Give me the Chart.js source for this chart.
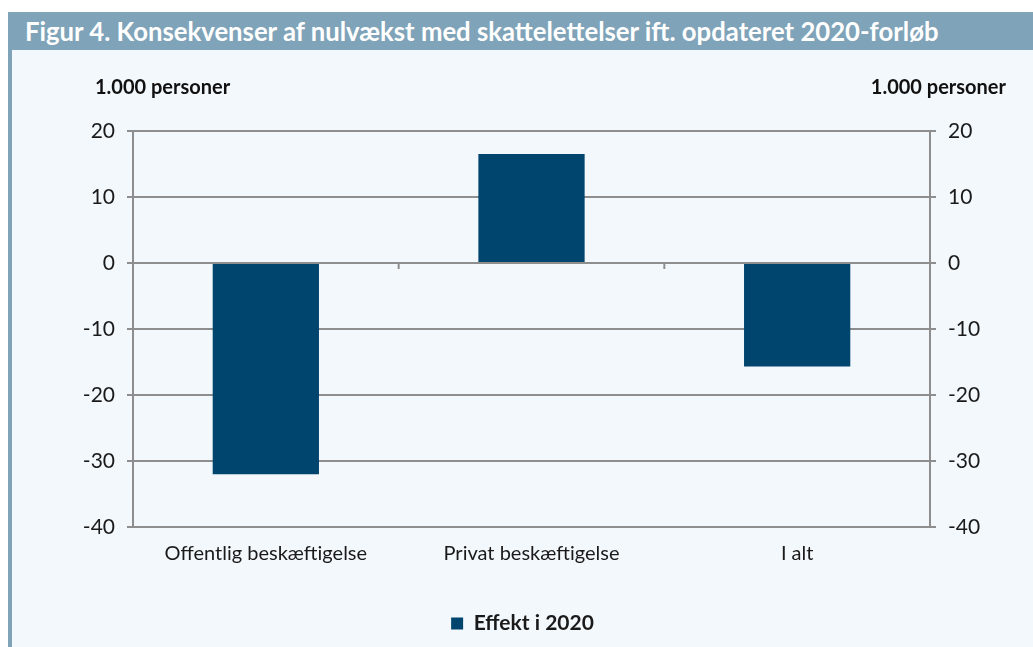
<!DOCTYPE html>
<html>
<head>
<meta charset="utf-8">
<script src="https://cdn.jsdelivr.net/npm/chart.js@4/dist/chart.umd.min.js"></script>
<style>
  body { margin: 0; background: #fff; font-family: Lato, sans-serif; }
  #title { position: absolute; left: 8px; top: 12px; width: 1025px; height: 38px; background: #7fa3b8;
           color: #fff; font-weight: bold; font-size: 25.7px; line-height: 38px; padding-left: 17px; box-sizing: border-box; white-space: nowrap; }
  #panel { position: absolute; left: 8px; top: 50px; width: 1025px; height: 597px; background: #f3f8fc;
           border-left: 4px solid #7fa3b8; box-sizing: border-box; }
  #wrap { position: absolute; left: 0; top: 0; width: 1021px; height: 597px; }
  .unit { position: absolute; top: 24px; font-weight: bold; font-size: 20px; color: #111; }
</style>
</head>
<body>
<div id="title">Figur 4. Konsekvenser af nulvækst med skattelettelser ift. opdateret 2020-forløb</div>
<div id="panel">
  <div id="wrap"><canvas id="chart"></canvas></div>
  <div class="unit" style="left:83px">1.000 personer</div>
  <div class="unit" style="right:27px">1.000 personer</div>
</div>
<script>
// --- DATA ---
const categories = ['Offentlig beskæftigelse', 'Privat beskæftigelse', 'I alt'];
const effekt2020 = [-32, 16.5, -15.7];
const seriesName = 'Effekt i 2020';
const yMin = -40, yMax = 20, yStep = 10;

const gridColor = '#8e8e8e';
const textColor = '#1a1a1a';

// short tick marks on the zero line between categories
const zeroTicks = {
    id: 'zeroTicks',
    afterDatasetsDraw(chart) {
        const x = chart.scales.x, y = chart.scales.y;
        const y0 = y.getPixelForValue(0);
        const ctx = chart.ctx;
        ctx.save();
        ctx.strokeStyle = gridColor;
        ctx.lineWidth = 2;
        for (let i = 1; i < categories.length; i++) {
            const px = (x.getPixelForValue(i - 1) + x.getPixelForValue(i)) / 2;
            ctx.beginPath();
            ctx.moveTo(px, y0);
            ctx.lineTo(px, y0 + 6);
            ctx.stroke();
        }
        ctx.restore();
    }
};

new Chart(document.getElementById('chart'), {
    type: 'bar',
    data: {
        labels: categories,
        datasets: [{
            label: seriesName,
            data: effekt2020,
            backgroundColor: '#00456e',
            barPercentage: 0.4,
            categoryPercentage: 1
        }]
    },
    options: {
        responsive: true, maintainAspectRatio: false, animation: false,
        layout: { padding: { top: 81, bottom: 3 } },
        plugins: {
            legend: {
                position: 'bottom',
                labels: { color: textColor, boxWidth: 12, boxHeight: 12, font: { family: 'Lato', size: 21, weight: 'bold' }, padding: 10 }
            },
            tooltip: { enabled: false }
        },
        scales: {
            x: {
                grid: { display: false },
                border: { display: false },
                ticks: { color: textColor, font: { family: 'Lato', size: 20 }, padding: 7 },
                afterFit(s) { s.height = 76; }
            },
            y: {
                min: yMin, max: yMax,
                ticks: { stepSize: yStep, color: textColor, font: { family: 'Lato', size: 21 }, padding: 12 },
                grid: { color: gridColor, lineWidth: 2, tickLength: 6 },
                border: { color: gridColor, width: 2 },
                afterFit(s) { s.width = 121; }
            },
            y2: {
                position: 'right',
                min: yMin, max: yMax,
                ticks: { stepSize: yStep, color: textColor, font: { family: 'Lato', size: 21 }, padding: 12 },
                grid: { drawOnChartArea: false, color: gridColor, lineWidth: 2, tickLength: 6 },
                border: { color: gridColor, width: 2 },
                afterFit(s) { s.width = 103; }
            }
        }
    },
    plugins: [zeroTicks]
});
</script>
</body>
</html>
